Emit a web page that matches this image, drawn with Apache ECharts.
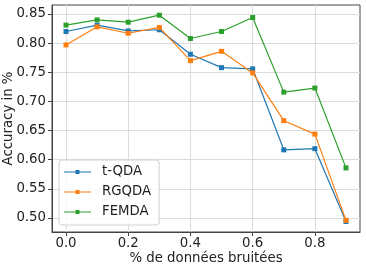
<!DOCTYPE html>
<html><head><meta charset="utf-8">
<script src="https://cdn.jsdelivr.net/npm/echarts@6/dist/echarts.min.js"></script>
<style>html,body{margin:0;padding:0;background:#fff}#c{width:366px;height:266px}</style>
</head><body><div id="c"></div>
<script>
const xValues = [0.0, 0.1, 0.2, 0.3, 0.4, 0.5, 0.6, 0.7, 0.8, 0.9];
const tQDA  = [0.820, 0.831, 0.821, 0.823, 0.781, 0.758, 0.756, 0.617, 0.619, 0.494];
const RGQDA = [0.797, 0.828, 0.817, 0.827, 0.770, 0.786, 0.749, 0.667, 0.644, 0.496];
const FEMDA = [0.831, 0.840, 0.836, 0.848, 0.808, 0.820, 0.844, 0.716, 0.723, 0.586];
const xTicks = [0.0, 0.2, 0.4, 0.6, 0.8];
const yTicks = [0.50, 0.55, 0.60, 0.65, 0.70, 0.75, 0.80, 0.85];
const seriesNames = ['t-QDA', 'RGQDA', 'FEMDA'];
const seriesData = [tQDA, RGQDA, FEMDA];
const colors = ['#1f77b4', '#ff7f0e', '#2ca02c'];

const font = 'DejaVu Sans';
const fs = 13.3;
const legendIcon = 'path://M0,2 L27,2 L27,3 L0,3 Z M11.5,0.5 L15.5,0.5 L15.5,4.5 L11.5,4.5 Z';
const chart = echarts.init(document.getElementById('c'), null, {renderer: 'canvas'});
function axisLine() { return {show: true, onZero: false, lineStyle: {color: '#444', width: 1}}; }
function axisTick(vals) { return {show: true, inside: false, length: 4, customValues: vals, lineStyle: {color: '#444', width: 1}}; }
const splitLine = {show: true, lineStyle: {color: '#dcdcdc', width: 1}};
const nameTextStyle = {fontFamily: font, fontSize: fs, color: '#222'};
chart.setOption({
  animation: false,
  color: colors,
  grid: {left: 52, right: 6, top: 5, bottom: 34, containLabel: false, outerBoundsMode: 'none',
         show: true, borderColor: '#444', borderWidth: 1, backgroundColor: 'transparent'},
  xAxis: {
    type: 'value', min: -0.045, max: 0.945,
    name: '% de données bruitées', nameLocation: 'middle', nameGap: 20, nameMoveOverlap: false, nameTextStyle: nameTextStyle,
    axisLine: axisLine(), axisTick: axisTick(xTicks), splitLine: splitLine,
    axisLabel: {customValues: xTicks, formatter: v => v.toFixed(1), fontFamily: font, fontSize: fs, color: '#222', margin: 5}
  },
  yAxis: {
    type: 'value', min: 0.476, max: 0.8655,
    name: 'Accuracy in %', nameLocation: 'middle', nameGap: 37, nameMoveOverlap: false, nameTextStyle: nameTextStyle,
    axisLine: axisLine(), axisTick: axisTick(yTicks), splitLine: splitLine,
    axisLabel: {customValues: yTicks, formatter: v => v.toFixed(2), fontFamily: font, fontSize: fs, color: '#222', margin: 6}
  },
  legend: {
    orient: 'vertical', left: 59, top: 160,
    padding: [5, 8, 6, 5], itemGap: 6, itemWidth: 27, itemHeight: 5,
    backgroundColor: 'rgba(255,255,255,0.8)', borderColor: '#d0d0d0', borderWidth: 1, borderRadius: 3,
    textStyle: {fontFamily: font, fontSize: fs, color: '#222', lineHeight: 14, padding: [0, 0, 0, 6]},
    data: seriesNames.map(n => ({name: n, icon: legendIcon}))
  },
  series: seriesNames.map((n, i) => ({
    name: n, type: 'line',
    data: xValues.map((x, j) => [x, seriesData[i][j]]),
    symbol: 'rect', symbolSize: 5,
    lineStyle: {width: 1.2, color: colors[i]},
    itemStyle: {color: colors[i]},
    z: 3 + i
  }))
});
</script></body></html>
